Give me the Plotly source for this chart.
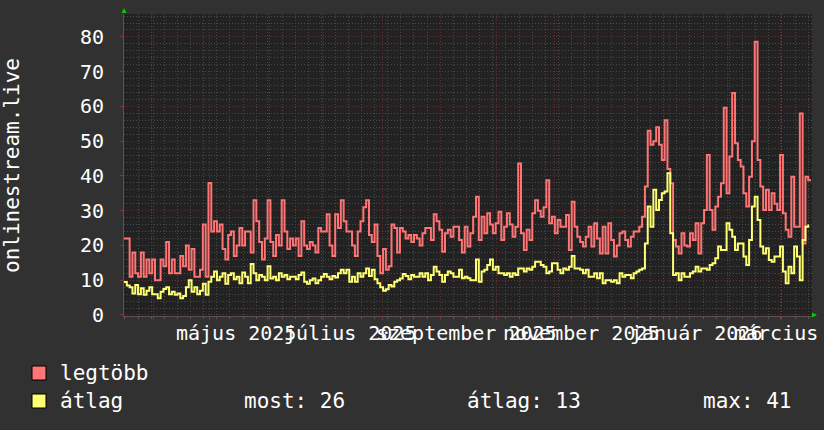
import pandas as pd
import plotly.graph_objects as go

# ---------------- data ----------------
start = pd.Timestamp("2025-03-16 13:00")
step = pd.Timedelta(hours=36)

legtobb = [
    22, 22, 11, 18, 12, 11, 18, 11, 16, 12, 16, 10, 10, 16, 14, 21, 12, 16, 12, 12,
    17, 14, 20, 13, 19, 11, 11, 13, 26, 11, 38, 24, 27, 24, 26, 19, 16, 23, 24, 17,
    20, 25, 20, 24, 24, 18, 33, 27, 21, 16, 22, 33, 21, 17, 23, 20, 33, 24, 19, 22,
    20, 22, 17, 27, 20, 19, 21, 20, 18, 25, 24, 24, 29, 20, 17, 29, 25, 33, 27, 24,
    24, 20, 17, 24, 27, 31, 33, 23, 21, 26, 17, 12, 19, 13, 14, 26, 25, 18, 25, 24,
    22, 23, 21, 23, 22,
    20, 23.5, 25, 25, 21.6, 29, 27, 24.5, 18.2, 23.5, 24.5, 22.5, 25.4, 25.4, 21.6,
    18, 25.4, 19.7, 23.5, 28.3, 34, 21.6, 28.3, 23.5, 29.3, 26, 23.5, 26.4, 29.7,
    21.6, 25.4, 29.3, 26, 22.5, 25.4, 43.6, 23.5, 18.7, 24.5, 21.6, 29.3, 33, 30,
    28.3, 31, 38.8, 26.4, 28.3, 23.5, 27.3, 25.4, 25.4, 28.8, 18.7, 32.6, 25.4,
    22.5, 21, 19.7, 22.5, 25.4, 19.7, 26.4, 22, 17.7, 25.4, 17.7, 26.4, 21.6, 16.8,
    20, 23.5, 24, 21.6, 19.7, 22.5, 24, 24, 25.4, 28.3, 37, 53, 49, 50, 54, 49,
    44.6, 56, 42, 37.9, 21.6, 19.7, 17.7, 23.5, 20, 19.7, 23.5, 21.6, 26.4, 17.7,
    26.4, 30.2, 46, 30.2, 24.5, 31.2, 34, 37.9, 59.6, 35, 45.6, 63.9, 49.4, 44.6,
    42.7, 35, 31.2, 39.8, 50, 78.6, 44.6, 37, 30.2, 36, 30.2, 35, 32, 30.2, 46,
    29.3, 24.5, 22.5, 39.8, 25.4, 25.4, 58, 20.6, 39.8, 38.8, 38.8,
]

atlag = [
    9.5, 8.5, 8, 6.2, 8.6, 6, 7.7, 5.8, 7, 8, 6, 6, 4.8, 6.7, 7.5, 8, 6, 6.7, 5.8, 6.2,
    4.8, 5.5, 8, 10, 6.7, 8, 6, 7, 9, 5.8, 9.6, 11, 12.5, 10, 11, 12, 9, 11.5, 12, 10.3,
    11, 9.1, 12.2, 11, 9.1, 14.7, 12, 10, 11.5, 11, 10, 14, 10.5, 11, 10, 12, 11, 11.5,
    10.3, 11, 11, 10.3, 11.5, 12.2, 9.6, 9, 10, 10.5, 9.1, 10, 11, 11.8, 11, 10.3, 11.2,
    10.8, 12, 13, 12, 13, 9.6, 11, 9.6, 12, 11, 12, 13.4, 11.2, 13, 10.3, 9.1, 8, 7,
    7.4, 8.6, 8.2, 9.6, 10, 10.5, 11.8, 11.2, 10.3, 11.5, 11, 11,
    12, 11, 12, 10, 11.5, 13.9, 12.5, 11.5, 9.6, 11.5, 12.5, 12, 11, 11, 13, 10.6,
    11, 10.6, 10, 10, 16, 9.6, 12.5, 13, 14.4, 16, 13, 13.9, 12, 12, 11.5, 12, 11,
    12, 11.5, 13.4, 13.4, 12.5, 13.4, 13, 13.9, 15.3, 15.3, 14.4, 13.9, 12, 12.5,
    14.9, 14.9, 13, 12, 13.4, 13, 13.9, 17, 13.4, 13.4, 13, 12, 13, 11, 11, 12,
    10.6, 12, 9.1, 10, 10, 9.6, 10, 9.1, 12, 11, 11.5, 11.5, 10.6, 12, 12.5, 13,
    13.4, 20.6, 31.2, 25.4, 36, 30.2, 33.1, 35, 35.5, 40.8, 23.5, 11.5, 12, 10, 12,
    11, 11, 12, 12.5, 13.9, 12.5, 13.4, 13.4, 13, 14.4, 14.9, 16.3, 19.7, 18.7,
    18.7, 26.4, 24.5, 22.5, 18.7, 20.6, 20.6, 16.8, 14.4, 21.6, 31.2, 34, 27.3,
    19.7, 17.7, 19.2, 15.8, 15.3, 16.8, 16.8, 19.7, 12.5, 9.1, 13.9, 12, 19.7, 16.8,
    10, 21.6, 25.4, 26,
]

dates = [start + i * step for i in range(len(legtobb))]

month_starts = ["2025-04-01", "2025-05-01", "2025-06-01", "2025-07-01", "2025-08-01",
                "2025-09-01", "2025-10-01", "2025-11-01", "2025-12-01", "2026-01-01",
                "2026-02-01", "2026-03-01"]
label_dates = ["2025-05-15", "2025-07-15", "2025-09-15", "2025-11-15",
               "2026-01-15", "2026-03-15"]
label_texts = ["május 2025", "július 2025", "szeptember 2025", "november 2025",
               "január 2026", "március 2026"]
y_ticks = [0, 10, 20, 30, 40, 50, 60, 70, 80]

series_names = ["legtöbb", "átlag"]
stat_texts = ["most: 26", "átlag: 13", "max: 41"]
y_title = "onlinestream.live"

# ---------------- styling ----------------
FONT = "DejaVu Sans Mono"
RED = "#ff7474"
YEL = "#ffff74"
MAJ = "#6a2e2e"
MIN = "#4a4a4a"
W, H = 824, 430
L, R, T, B = 124, 12, 14, 114
PW, PH = W - L - R, H - T - B


def px_x(px):
    return (px - L) / PW


def px_y(py):
    return 1 - (py - T) / PH


fig = go.Figure()
fig.add_trace(go.Scatter(x=dates, y=legtobb, mode="lines", line=dict(color=RED, width=2, shape="hv"),
                         name=series_names[0], hoverinfo="skip"))
fig.add_trace(go.Scatter(x=dates, y=atlag, mode="lines", line=dict(color=YEL, width=2, shape="hv"),
                         name=series_names[1], hoverinfo="skip"))

fig.update_layout(
    width=W, height=H,
    margin=dict(l=L, r=R, t=T, b=B),
    paper_bgcolor="#313131",
    plot_bgcolor="#222222",
    showlegend=False,
    font=dict(family=FONT, color="#ffffff"),
    xaxis=dict(
        range=["2025-03-16 13:00", "2026-03-18 01:00"],
        tickmode="array", tickvals=month_starts, showticklabels=False,
        showgrid=True, gridcolor=MAJ, griddash="1px,2px", gridwidth=1,
        ticks="outside", ticklen=3, tickcolor="#8a3030",
        minor=dict(tickmode="linear", tick0="2025-03-17", dtick=7 * 86400000,
                   showgrid=True, gridcolor=MIN, griddash="1px,2px", gridwidth=1,
                   ticks="outside", ticklen=2, tickcolor="#5a5a5a"),
        showline=True, linecolor="#555555", linewidth=1,
        zeroline=False, fixedrange=True,
    ),
    yaxis=dict(
        range=[-0.29, 86.6],
        tickmode="array", tickvals=y_ticks,
        tickfont=dict(family=FONT, size=20, color="#ffffff"),
        showgrid=True, gridcolor=MAJ, griddash="1px,2px", gridwidth=1,
        ticks="outside", ticklen=3, tickcolor="#8a3030",
        ticklabelstandoff=12,
        minor=dict(tickmode="linear", tick0=0, dtick=2,
                   showgrid=True, gridcolor=MIN, griddash="1px,2px", gridwidth=1),
        showline=True, linecolor="#555555", linewidth=1,
        zeroline=False, fixedrange=True,
    ),
)

# x-axis labels (month names)
for d, t in zip(label_dates, label_texts):
    fig.add_annotation(x=d, xref="x", y=px_y(319), yref="paper", text=t, showarrow=False,
                       xanchor="center", yanchor="top", font=dict(family=FONT, size=20, color="#ffffff"))

# y-axis title
fig.add_annotation(x=px_x(12), xref="paper", y=0.5, yref="paper", text=y_title, textangle=-90,
                   showarrow=False, xanchor="center", yanchor="middle",
                   font=dict(family=FONT, size=21, color="#ffffff"))

# arrows (green)
fig.add_shape(type="path", xref="paper", yref="paper",
              path=f"M {px_x(121.5)} {px_y(13)} L {px_x(126.5)} {px_y(13)} L {px_x(124)} {px_y(8)} Z",
              fillcolor="#00cc00", line=dict(width=0))
fig.add_shape(type="path", xref="paper", yref="paper",
              path=f"M {px_x(812)} {px_y(312.5)} L {px_x(812)} {px_y(317.5)} L {px_x(817)} {px_y(315)} Z",
              fillcolor="#00cc00", line=dict(width=0))

# legend
legend_rows = [(373, RED, series_names[0]), (401, YEL, series_names[1])]
for cy, col, name in legend_rows:
    fig.add_shape(type="rect", xref="paper", yref="paper",
                  x0=px_x(32), x1=px_x(46), y0=px_y(cy - 7), y1=px_y(cy + 7),
                  fillcolor=col, line=dict(color="#000000", width=1))
    fig.add_annotation(x=px_x(58), xref="paper", y=px_y(cy), yref="paper", text=name,
                       showarrow=False, xanchor="left", yanchor="middle",
                       font=dict(family=FONT, size=21, color="#ffffff"))

for xs, t in zip([242, 465, 701], stat_texts):
    fig.add_annotation(x=px_x(xs), xref="paper", y=px_y(401), yref="paper", text=t,
                       showarrow=False, xanchor="left", yanchor="middle",
                       font=dict(family=FONT, size=21, color="#ffffff"))

fig.write_html("out.html", config={"displayModeBar": False},
               post_script="document.body.style.margin='0';document.body.style.overflow='hidden';")
